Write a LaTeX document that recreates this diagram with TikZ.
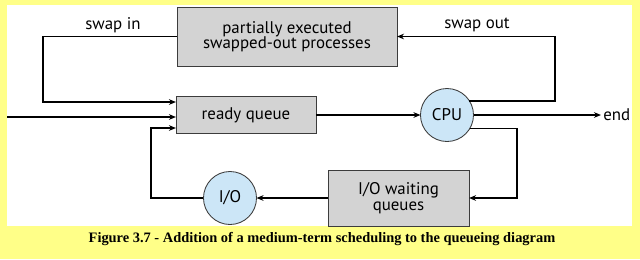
\documentclass[tikz,border=0pt]{standalone}
\usepackage{fontspec}
\setmainfont{PT Sans}
\newfontfamily\captionfont{Liberation Serif}
\usetikzlibrary{arrows.meta}
\definecolor{pageyellow}{RGB}{255,255,136}
\definecolor{queuegray}{RGB}{211,211,211}
\definecolor{cpublue}{RGB}{204,230,247}
\definecolor{edgegray}{RGB}{60,60,60}
\begin{document}
\begin{tikzpicture}[x=0.025cm, y=-0.025cm,
    queue/.style={rectangle, draw=edgegray, fill=queuegray, line width=0.6pt, outer sep=0pt, align=center, font=\fontsize{12}{13}\selectfont},
    server/.style={circle, draw=edgegray, fill=cpublue, line width=0.6pt, outer sep=0pt, minimum size=1.325cm, inner sep=0pt, font=\fontsize{12}{13}\selectfont},
    flow/.style={line width=0.8pt, -{Stealth[length=5pt,width=4pt]}},
    lbl/.style={font=\fontsize{12}{13}\selectfont}]
    \useasboundingbox (0,0) rectangle (640,259);
    \fill[pageyellow] (0,0) rectangle (640,259);
    \fill[white] (7,5) rectangle (632,226);
    \node[queue, minimum width=5.5cm, minimum height=1.475cm] (swapped) at (287,36.5) {partially executed\\[-2pt]swapped-out processes};
    \node[queue, minimum width=3.5cm, minimum height=0.925cm] (ready) at (246,115) {ready queue};
    \node[server] (cpu) at (447,115) {CPU};
    \node[queue, minimum width=3.525cm, minimum height=1.4cm] (wait) at (398.5,198) {I/O waiting\\[-2pt]queues};
    \node[server] (io) at (230,198) {I/O};
    \coordinate (start) at (7,117);
    \coordinate (swapinC) at (43,102);
    \coordinate (ioC) at (151,128);
    \coordinate (swapoutC) at (555,36.5);
    \coordinate (waitC) at (517,198);
    \coordinate (finish) at (601,115);
    \draw[flow] (swapped.west) -| (swapinC) -- (swapinC -| ready.west);
    \draw[flow] (start) -- (start -| ready.west);
    \draw[flow] (io.west) -| (ioC) -- (ioC -| ready.west);
    \draw[flow] (ready.east) -- (cpu.west);
    \draw[flow] (cpu.32) -| (swapoutC) -- (swapped.east);
    \draw[flow] (cpu.east) -- (finish);
    \draw[flow] (cpu.-30) -| (waitC) -- (wait.east);
    \draw[flow] (wait.west) -- (io.east);
    \node[lbl] (swapin) at (113,25) {swap in};
    \node[lbl] (swapout) at (477,25) {swap out};
    \node[lbl, anchor=west, inner sep=1.5pt] (endlbl) at (finish) {end};
    \node[font=\captionfont\bfseries\fontsize{10.25}{12}\selectfont] (caption) at (322,239) {Figure 3.7 - Addition of a medium-term scheduling to the queueing diagram};
\end{tikzpicture}
\end{document}
